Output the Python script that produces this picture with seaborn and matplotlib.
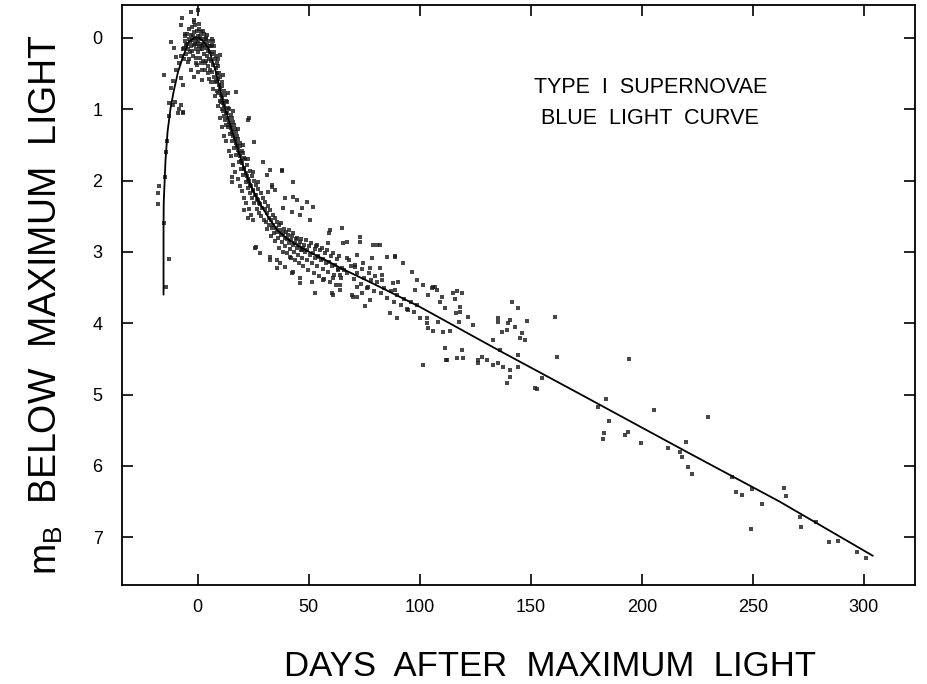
import matplotlib
matplotlib.use("Agg")
import matplotlib.pyplot as plt
import seaborn as sns
import pandas as pd

sns.set_style("ticks")
plt.rcParams['font.family'] = ['Liberation Sans', 'DejaVu Sans']
plt.rcParams['text.color'] = 'black'
plt.rcParams['axes.labelcolor'] = 'black'
plt.rcParams['xtick.color'] = 'black'
plt.rcParams['ytick.color'] = 'black'

# template light curve (days, mag below maximum)
curve_days = [-15.3, -15.3, -15.2, -14.4, -13.5, -12.2, -10.8, -8.8, -6.7, -4.0, -1.5, 0,
              2, 5, 8, 12, 15.5, 20.7, 24, 28, 32, 36, 41, 46, 52, 58, 64, 80,
              100, 135, 172, 220, 262, 304]
curve_mags = [3.6, 2.6, 2.3, 1.71, 1.32, 1.0, 0.76, 0.48, 0.28, 0.06, 0.0, 0.0,
              0.03, 0.15, 0.45, 0.95, 1.3, 1.81, 2.08, 2.32, 2.52, 2.7, 2.83, 2.93, 3.03, 3.12, 3.22, 3.46,
              3.77, 4.37, 4.99, 5.8, 6.5, 7.26]

rise_pts = [(-18.0, 2.17), (-18.0, 2.33), (-17.2, 2.08), (-13.0, 3.1), (-14.4, 3.49), (-15.0, 2.6),
            (-14.6, 1.95), (-13.8, 1.45), (-12.9, 1.1), (-12.1, 0.06), (-13.0, 0.91), (-11.2, 0.94),
            (-9.0, 1.05), (-7.6, 0.94), (-6.7, 1.04), (-10.8, 0.14), (-9.9, 0.27), (-15.3, 0.52),
            (-7.6, 0.56), (-6.7, 0.66), (-12.0, 0.7), (-11.0, 0.6), (-9.5, 0.45), (-8.5, 0.35),
            (-7.5, 0.25), (-6.5, 0.15), (-5.5, -0.05), (-7.2, -0.28), (-7.6, -0.18), (-3.1, -0.36),
            (0.4, -0.39), (-1.8, -0.25), (-3.1, 0.45), (-0.9, 0.35), (0.0, 0.48), (-1.8, 0.55),
            (2.2, 0.59), (-8.5, 1.0), (-6.7, 1.06), (-10.2, 0.9), (-14.0, 1.6)]

peak_pts = [(-6.3, 0.14), (-5.8, -0.02), (-5.5, 0.05), (-5.1, 0.22), (-4.8, 0.08), (-4.6, -0.06),
            (-4.2, 0.15), (-4.0, 0.02), (-3.7, -0.12), (-3.5, 0.2), (-3.2, 0.06), (-3.0, -0.04),
            (-2.8, 0.12), (-2.5, -0.15), (-2.3, 0.03), (-2.1, 0.25), (-1.8, -0.08), (-1.6, 0.1),
            (-1.3, 0.0), (-1.1, -0.18), (-0.9, 0.16), (-0.6, 0.04), (-0.4, -0.1), (-0.2, 0.08),
            (0.0, -0.03), (0.2, 0.2), (0.4, 0.05), (0.6, -0.12), (0.8, 0.12), (1.0, -0.02),
            (1.2, 0.28), (1.4, 0.08), (1.7, -0.08), (1.9, 0.15), (2.1, 0.02), (2.3, 0.32),
            (2.6, 0.1), (2.8, -0.05), (3.0, 0.22), (3.2, 0.06), (3.5, 0.36), (3.7, 0.14),
            (3.9, 0.0), (4.2, 0.26), (4.4, 0.1), (4.6, 0.4), (4.9, 0.18), (5.1, 0.04),
            (5.3, 0.3), (5.6, 0.45), (5.8, 0.2), (-5.2, 0.1), (-3.9, 0.3), (-2.6, 0.18),
            (-1.5, -0.22), (-0.7, 0.28), (0.5, -0.2), (1.5, 0.35), (2.5, -0.1), (3.3, 0.45),
            (4.0, 0.32), (4.8, 0.5), (-1.0, 0.08), (0.9, 0.15), (2.0, 0.12), (3.6, 0.02),
            (-2.0, -0.02), (-4.4, 0.34), (-6.0, 0.3), (-0.3, 0.38), (1.8, 0.45),
            (5.0, 0.58), (6.1, 0.62), (7.0, 0.72), (4.3, -0.04), (5.5, 0.12), (6.4, 0.02)]

fall_pts = [(6.0, 0.12), (6.2, 0.32), (6.5, 0.48), (6.7, 0.22), (6.9, 0.05),
            (7.1, 0.38), (7.3, 0.2), (7.5, 0.55), (7.7, 0.3), (7.9, 0.62),
            (8.1, 0.42), (8.2, 0.25), (8.4, 0.6), (8.6, 0.5), (8.8, 0.75), (8.9, 0.35),
            (9.1, 0.58), (9.2, 0.4), (9.4, 0.78), (9.6, 0.66), (9.8, 0.5), (9.9, 0.88),
            (10.1, 0.72), (10.3, 0.55), (10.4, 0.9), (10.6, 0.8), (10.8, 0.62), (10.9, 1.0),
            (11.1, 0.85), (11.2, 0.68), (11.4, 1.02), (11.6, 0.92), (11.8, 0.75), (11.9, 1.1),
            (12.1, 0.96), (12.3, 0.8), (12.4, 1.15), (12.6, 1.05), (12.8, 0.88), (12.9, 1.22),
            (13.1, 1.06), (13.3, 0.9), (13.5, 1.25), (13.7, 1.12), (13.9, 0.98),
            (14.1, 1.18), (14.3, 1.0), (14.5, 1.35), (14.7, 1.22), (14.9, 1.08),
            (15.1, 1.27), (15.3, 1.12), (15.5, 1.45), (15.7, 1.32), (15.9, 1.18),
            (16.1, 1.38), (16.3, 1.22), (16.5, 1.55), (16.7, 1.42), (16.9, 1.28),
            (17.1, 1.47), (17.3, 1.32), (17.5, 1.64), (17.7, 1.52), (17.9, 1.38),
            (18.1, 1.57), (18.3, 1.42), (18.5, 1.74), (18.7, 1.62), (18.9, 1.48),
            (19.1, 1.66), (19.3, 1.52), (19.5, 1.84), (19.7, 1.72), (19.9, 1.58),
            (20.1, 1.76), (20.3, 1.62), (20.5, 1.92), (20.7, 1.82), (20.9, 1.68),
            (21.1, 1.84), (21.4, 1.7), (21.6, 2.02), (21.8, 1.9),
            (22.1, 1.93), (22.4, 1.78), (22.6, 2.1), (22.8, 1.98),
            (23.1, 2.0), (23.4, 1.86), (23.6, 2.18), (23.8, 2.06),
            (24.1, 2.08), (24.4, 1.94), (24.6, 2.25), (24.8, 2.13),
            (25.1, 2.15), (25.4, 2.0), (25.6, 2.32), (25.8, 2.2),
            (26.1, 2.21), (26.4, 2.06), (26.6, 2.4), (26.8, 2.26),
            (27.1, 2.27), (27.4, 2.12), (27.6, 2.45), (27.8, 2.32),
            (28.2, 2.33), (28.5, 2.18), (28.8, 2.5), (29.2, 2.38), (29.5, 2.24), (29.8, 2.55),
            (8.0, 0.82), (9.0, 0.95), (10.0, 1.12), (11.0, 1.25), (12.0, 1.38), (13.0, 1.45),
            (14.0, 1.58), (15.0, 1.66), (16.0, 1.78), (17.0, 1.88), (18.0, 1.98), (19.0, 2.08),
            (20.0, 2.15), (21.0, 2.25), (22.0, 2.32), (23.0, 2.4), (24.0, 2.48), (25.0, 2.55),
            (7.6, 0.12), (9.3, 0.3), (11.5, 0.52), (13.6, 0.78), (15.8, 1.02), (18.2, 1.28),
            (20.4, 1.5), (22.7, 1.7), (24.9, 1.88), (27.0, 2.02),
            (17.1, 0.76), (22.9, 1.15), (10.3, 0.24), (6.7, 0.10), (25.2, 1.46), (29.6, 1.74),
            (38.2, 1.85), (43.1, 2.02), (32.8, 1.85), (31.4, 1.92), (33.7, 2.06), (35.0, 2.13),
            (31.9, 2.16), (39.5, 2.24), (44.9, 2.27), (49.4, 2.30), (38.6, 2.38), (42.7, 2.44),
            (46.3, 2.48), (52.1, 2.37), (50.8, 2.55), (15.7, 1.95), (15.7, 2.02), (20.7, 2.41),
            (22.5, 2.52), (26.1, 2.93), (28.3, 3.02), (26.0, 2.95), (23.0, 1.13), (38.0, 1.86)]

knee_pts = [(30.2, 2.4), (30.5, 2.3), (30.8, 2.58), (31.1, 2.45), (31.4, 2.68), (31.7, 2.36),
            (32.0, 2.52), (32.3, 2.62), (32.6, 2.42), (32.9, 2.78), (33.2, 2.55), (33.5, 2.66),
            (33.8, 2.48), (34.1, 2.62), (34.4, 2.74), (34.7, 2.52), (35.0, 2.85), (35.3, 2.66),
            (35.6, 2.58), (35.9, 2.72), (36.2, 2.8), (36.5, 2.62), (36.8, 2.95), (37.1, 2.7),
            (37.4, 2.76), (37.7, 2.6), (38.0, 2.86), (38.3, 2.74), (38.6, 3.0), (38.9, 2.68),
            (39.2, 2.8), (39.5, 2.92), (39.8, 2.72), (40.1, 2.82), (40.4, 3.02), (40.7, 2.76),
            (41.0, 2.88), (41.3, 2.7), (41.6, 2.96), (41.9, 2.84), (42.2, 3.08), (42.5, 2.78),
            (42.8, 2.9), (43.1, 2.74), (43.4, 3.0), (43.7, 2.88), (44.0, 3.12), (44.3, 2.82),
            (44.6, 2.94), (44.9, 2.8), (45.2, 3.04), (45.5, 2.9), (45.8, 3.16), (46.1, 2.86),
            (46.4, 2.98), (46.7, 2.82), (47.0, 3.08), (47.3, 2.94), (47.6, 3.2), (47.9, 2.9),
            (48.3, 3.0), (48.7, 2.84), (49.1, 3.12), (49.5, 2.98), (49.9, 3.26), (50.3, 2.92),
            (50.7, 3.04), (51.1, 2.88), (51.5, 3.16), (51.9, 3.02), (52.3, 3.3), (52.7, 2.96),
            (53.1, 3.08), (53.5, 2.92), (53.9, 3.2), (54.3, 3.06), (54.7, 3.34), (55.1, 2.98),
            (55.5, 3.12), (55.9, 2.94), (56.3, 3.24), (56.7, 3.1), (57.1, 3.38), (57.5, 3.02),
            (57.9, 3.16), (58.3, 2.98), (58.7, 3.28), (59.1, 3.14), (59.5, 3.42), (59.9, 3.06),
            (60.4, 3.2), (60.9, 3.02), (61.4, 3.32), (61.9, 3.18), (62.4, 3.46), (62.9, 3.1),
            (63.4, 3.24), (63.9, 3.06), (64.4, 3.36), (64.9, 3.22),
            (32.8, 3.11), (35.9, 3.23), (42.7, 3.30), (46.3, 3.44), (53.0, 3.58), (61.0, 3.60),
            (64.2, 3.53), (59.7, 2.69), (47.2, 2.38), (43.1, 2.23), (33.7, 2.09), (53.9, 2.90),
            (58.8, 2.88), (54.4, 3.07), (47.2, 2.97), (41.8, 3.07), (37.3, 3.16), (35.9, 3.11),
            (32.8, 3.07), (39.5, 3.21), (43.1, 3.28), (46.3, 3.37), (51.7, 3.42), (56.6, 3.39),
            (60.6, 3.58), (61.1, 3.37), (64.2, 3.32), (64.2, 3.46), (63.3, 3.25), (59.3, 2.74)]

tail_pts = [(66, 3.25), (67.5, 3.3), (69, 3.2), (70.5, 3.38), (72, 3.3), (73.5, 3.45), (75, 3.36),
            (76.5, 3.5), (78, 3.4), (79.5, 3.55), (81, 3.42), (82.5, 3.58), (84, 3.5), (85.5, 3.64),
            (87, 3.55), (88.5, 3.7), (90, 3.6), (91.5, 3.74), (93, 3.66), (94.5, 3.8), (96, 3.7),
            (97.5, 3.84), (99, 3.75), (68, 3.12), (71, 3.18), (74, 3.24), (77, 3.3), (80, 3.34),
            (83, 3.4), (65.1, 2.67), (73.2, 2.79), (80.9, 2.90), (82.2, 2.90), (88.9, 3.07),
            (92.5, 3.16), (96.6, 3.28), (98.8, 3.39), (98.0, 3.53), (90.3, 3.42), (88.1, 3.44),
            (88.9, 3.53), (82.2, 3.23), (83.1, 3.32), (77.7, 3.67), (76.8, 3.49), (74.1, 3.58),
            (71.9, 3.63), (69.6, 3.60), (77.7, 3.23), (74.6, 3.16), (71.9, 3.04), (67.4, 3.09),
            (78.6, 3.09), (85.4, 3.07), (86.7, 3.86), (89.8, 3.93), (94.8, 3.81), (100.2, 3.93),
            (103.3, 4.00), (106.9, 3.49), (105.6, 3.51), (65.6, 2.88), (67.4, 2.86), (73.2, 2.86),
            (71.0, 3.21), (75.5, 3.76), (70.0, 3.63), (72.0, 3.49), (79.0, 2.9), (89.0, 3.06),
            (101.5, 3.46), (106.0, 3.49), (107.8, 3.53), (103.8, 3.60), (110.0, 3.63), (109.2, 3.70),
            (111.4, 3.79), (115.0, 3.57), (116.8, 3.55), (119.0, 3.57), (115.9, 3.66), (118.1, 3.77),
            (116.4, 3.86), (118.1, 3.84), (121.7, 3.91), (103.3, 3.93), (108.3, 3.98), (103.8, 4.07),
            (106.0, 4.11), (110.5, 4.12), (113.7, 4.11), (117.7, 3.98), (124.0, 4.03), (111.4, 4.35),
            (119.0, 4.38), (112.3, 4.52), (101.5, 4.59), (141.5, 3.70), (144.2, 3.79), (135.2, 3.93),
            (135.2, 3.98), (140.6, 3.96), (139.7, 4.0), (142.9, 4.05), (137.0, 4.12), (139.3, 4.10),
            (146.0, 4.14), (145.1, 4.21), (147.3, 4.24), (133.0, 4.24), (148.2, 3.97), (160.8, 3.91),
            (161.7, 4.47), (136.1, 4.38), (144.2, 4.45), (126.2, 4.52), (128.0, 4.47), (126.2, 4.56),
            (130.3, 4.52), (133.0, 4.59), (135.2, 4.56), (137.5, 4.61), (140.6, 4.66), (144.2, 4.61),
            (140.6, 4.75), (139.3, 4.84), (155.0, 4.77), (151.8, 4.91), (119.5, 4.49), (116.8, 4.49),
            (152.7, 4.92), (112.0, 4.52)]

late_pts = [(183.7, 5.06), (180.2, 5.17), (185.1, 5.37), (182.8, 5.54), (182.4, 5.63), (194.1, 4.50),
            (205.3, 5.22), (193.6, 5.52), (192.3, 5.57), (199.5, 5.68), (230.0, 5.32), (219.7, 5.67),
            (211.6, 5.75), (217.0, 5.80), (218.3, 5.88), (220.6, 6.01), (222.4, 6.11), (240.8, 6.16),
            (242.6, 6.37), (245.3, 6.41), (249.8, 6.32), (254.3, 6.54), (249.3, 6.89), (264.2, 6.31),
            (265.0, 6.42), (271.8, 6.86), (278.5, 6.79), (284.4, 7.07), (288.4, 7.05), (297.0, 7.21),
            (301.0, 7.29), (271.0, 6.72)]

all_pts = rise_pts + peak_pts + fall_pts + knee_pts + tail_pts + late_pts
obs = pd.DataFrame(all_pts, columns=["day", "mag"])
curve = pd.DataFrame({"day": curve_days, "mag": curve_mags})

fig = plt.figure(figsize=(9.27, 6.84), dpi=100)
ax = fig.add_axes([0.1316, 0.1447, 0.8555, 0.848])

sns.scatterplot(data=obs, x="day", y="mag", ax=ax, marker="s", s=6, color="0.1",
                alpha=0.8, linewidth=0)
sns.lineplot(data=curve, x="day", y="mag", ax=ax, sort=False, estimator=None,
             color="black", linewidth=1.3)

ax.set_xlim(-34, 323)
ax.set_ylim(7.67, -0.46)
ax.set_xticks([0, 50, 100, 150, 200, 250, 300])
ax.set_yticks(range(0, 8))
ax.tick_params(direction="in", length=8, width=1.2, top=True, right=True,
               labelsize=13, color="black")
ax.tick_params(axis="y", pad=14)
ax.tick_params(axis="x", pad=10)
for sp in ax.spines.values():
    sp.set_linewidth(1.3)
    sp.set_color("black")

ax.set_xlabel("DAYS  AFTER  MAXIMUM  LIGHT", fontsize=25)
ax.set_ylabel(r"$\mathregular{m_B}$  BELOW  MAXIMUM  LIGHT", fontsize=27)
ax.xaxis.set_label_coords(0.54, -0.112)
ax.yaxis.set_label_coords(-0.072, 0.483)

ax.text(0.666, 0.857, "TYPE  I  SUPERNOVAE", transform=ax.transAxes, ha="center",
        va="center", fontsize=15.5)
ax.text(0.666, 0.805, "BLUE  LIGHT  CURVE", transform=ax.transAxes, ha="center",
        va="center", fontsize=15.5)

fig.savefig("out.png", dpi=100)
